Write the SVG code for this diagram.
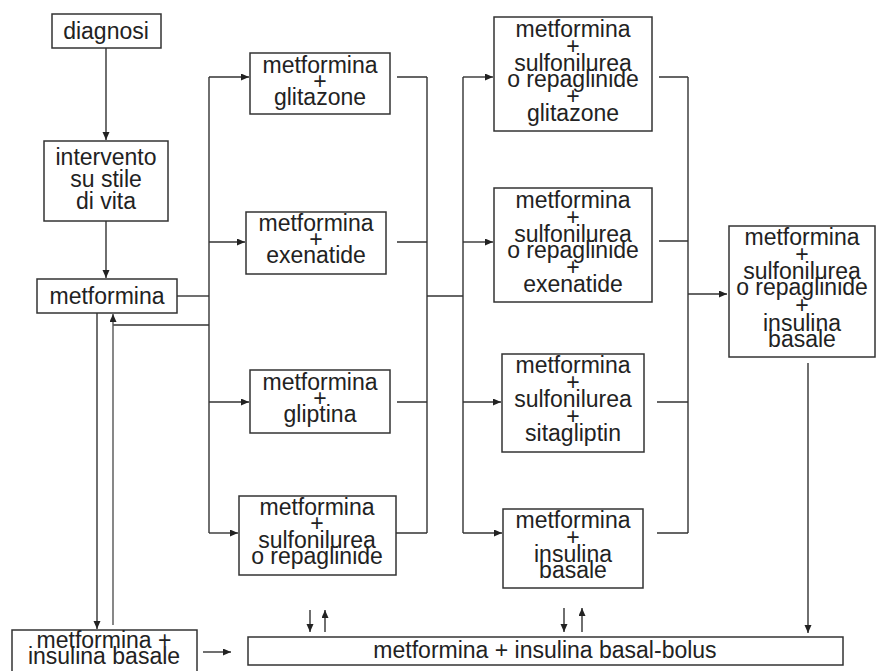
<svg xmlns="http://www.w3.org/2000/svg" width="876" height="671" viewBox="0 0 876 671">
<style>
.box{fill:#fff;stroke:#333;stroke-width:1.5}
.t{font-family:"Liberation Sans",Arial,sans-serif;font-size:23px;fill:#222;text-anchor:middle}
.c{fill:none;stroke:#333;stroke-width:1.4}
.a{marker-end:url(#ah)}
</style>
<defs>
<marker id="ah" markerUnits="userSpaceOnUse" markerWidth="9" markerHeight="8" refX="8" refY="3.5" orient="auto">
<path d="M0,0 L8,3.5 L0,7 z" fill="#222"/>
</marker>
</defs>
<rect width="876" height="671" fill="#fff"/>
<g id="connectors">
<path class="c a" d="M106,48 V140"/>
<path class="c a" d="M106,221 V278"/>
<path class="c" d="M177,296 H209"/>
<path class="c" d="M209,77 V533"/>
<path class="c a" d="M209,77 H249"/>
<path class="c a" d="M209,242 H245"/>
<path class="c a" d="M209,402 H249"/>
<path class="c a" d="M209,533 H238"/>
<path class="c" d="M209,325 H113"/>
<path class="c a" style="stroke:#555" d="M113,625 V314"/>
<path class="c a" d="M97,313 V629"/>
<path class="c" d="M397,77 H427 M397,242 H427 M397,402 H427 M396,533 H427"/>
<path class="c" d="M427,77 V533"/>
<path class="c" d="M427,296 H463"/>
<path class="c" d="M463,77 V533"/>
<path class="c a" d="M463,77 H493"/>
<path class="c a" d="M463,242 H493"/>
<path class="c a" d="M463,402 H501"/>
<path class="c a" d="M463,533 H502"/>
<path class="c" d="M659,77 H688 M659,241 H688 M657,402 H688 M657,533 H688"/>
<path class="c" d="M688,77 V533"/>
<path class="c a" d="M688,294 H727"/>
<path class="c a" d="M808,363 V633"/>
<path class="c a" d="M203,652 H231"/>
<path class="c a" d="M310,610 V632"/>
<path class="c a" d="M325,632 V610"/>
<path class="c a" d="M564,608 V632"/>
<path class="c a" d="M582,632 V608"/>
</g>
<g id="diagnosi">
<rect class="box" x="52" y="14" width="109" height="34"/>
<text class="t" x="106" y="39">diagnosi</text>
</g>
<g id="intervento">
<rect class="box" x="44" y="141" width="124" height="80"/>
<text class="t" x="106" y="165">intervento</text>
<text class="t" x="106" y="187">su stile</text>
<text class="t" x="106" y="209">di vita</text>
</g>
<g id="metformina">
<rect class="box" x="37" y="279" width="140" height="34"/>
<text class="t" x="107" y="304">metformina</text>
</g>
<g id="glitazone">
<rect class="box" x="250" y="53" width="140" height="61"/>
<text class="t" x="320" y="73">metformina</text>
<text class="t" x="320" y="89">+</text>
<text class="t" x="320" y="105">glitazone</text>
</g>
<g id="exenatide">
<rect class="box" x="246" y="212" width="140" height="62"/>
<text class="t" x="316" y="231">metformina</text>
<text class="t" x="316" y="247">+</text>
<text class="t" x="316" y="263">exenatide</text>
</g>
<g id="gliptina">
<rect class="box" x="250" y="370" width="140" height="63"/>
<text class="t" x="320" y="390">metformina</text>
<text class="t" x="320" y="406">+</text>
<text class="t" x="320" y="422">gliptina</text>
</g>
<g id="sulfonilurea">
<rect class="box" x="239" y="496" width="157" height="79"/>
<text class="t" x="317" y="515">metformina</text>
<text class="t" x="317" y="531">+</text>
<text class="t" x="317" y="548">sulfonilurea</text>
<text class="t" x="317" y="564">o repaglinide</text>
</g>
<g id="triple-glitazone">
<rect class="box" x="494" y="17" width="158" height="114"/>
<text class="t" x="573" y="37">metformina</text>
<text class="t" x="573" y="54">+</text>
<text class="t" x="573" y="71">sulfonilurea</text>
<text class="t" x="573" y="87">o repaglinide</text>
<text class="t" x="573" y="104">+</text>
<text class="t" x="573" y="121">glitazone</text>
</g>
<g id="triple-exenatide">
<rect class="box" x="494" y="188" width="158" height="114"/>
<text class="t" x="573" y="208">metformina</text>
<text class="t" x="573" y="225">+</text>
<text class="t" x="573" y="242">sulfonilurea</text>
<text class="t" x="573" y="258">o repaglinide</text>
<text class="t" x="573" y="275">+</text>
<text class="t" x="573" y="292">exenatide</text>
</g>
<g id="triple-sitagliptin">
<rect class="box" x="502" y="354" width="142" height="98"/>
<text class="t" x="573" y="373">metformina</text>
<text class="t" x="573" y="390">+</text>
<text class="t" x="573" y="407">sulfonilurea</text>
<text class="t" x="573" y="424">+</text>
<text class="t" x="573" y="441">sitagliptin</text>
</g>
<g id="insulina-basale">
<rect class="box" x="503" y="509" width="140" height="79"/>
<text class="t" x="573" y="528">metformina</text>
<text class="t" x="573" y="545">+</text>
<text class="t" x="573" y="562">insulina</text>
<text class="t" x="573" y="578">basale</text>
</g>
<g id="final">
<rect class="box" x="729" y="226" width="146" height="131"/>
<text class="t" x="802" y="245">metformina</text>
<text class="t" x="802" y="262">+</text>
<text class="t" x="802" y="279">sulfonilurea</text>
<text class="t" x="802" y="295">o repaglinide</text>
<text class="t" x="802" y="313">+</text>
<text class="t" x="802" y="331">insulina</text>
<text class="t" x="802" y="347">basale</text>
</g>
<g id="met-insulina-basale">
<rect class="box" x="12" y="630" width="185" height="45"/>
<text class="t" x="104" y="648">metformina +</text>
<text class="t" x="104" y="664">insulina basale</text>
</g>
<g id="basal-bolus">
<rect class="box" x="248" y="637" width="595" height="28"/>
<text class="t" x="545" y="658">metformina + insulina basal-bolus</text>
</g>
</svg>
